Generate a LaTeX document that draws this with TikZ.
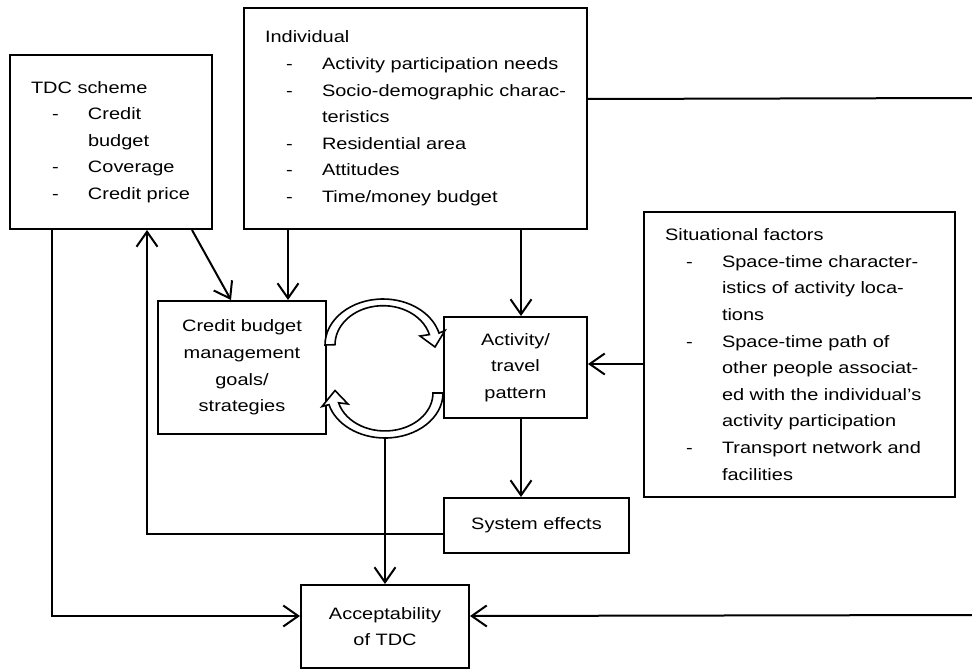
\documentclass[tikz,border=0pt]{standalone}
\usepackage{fontspec}
\setmainfont[FakeStretch=1.21]{Liberation Sans}
\usetikzlibrary{arrows.meta, positioning}
\tikzstyle{box} = [draw, rectangle, line width=2pt, inner sep=0pt, anchor=north west, font=\fontsize{16.5}{26.6}\selectfont]
\tikzstyle{listbox} = [box, align=left]
\tikzstyle{textbox} = [box, align=center]
\tikzstyle{arr} = [line width=2pt, -{Straight Barb[length=15pt,width=21pt]}]
\tikzstyle{plain} = [line width=2pt]
\tikzstyle{blockarrow} = [draw, fill=white, line width=1.6pt, line join=miter]
\newcommand{\dhead}[1]{\hspace*{21pt}#1}
\newcommand{\ditem}[1]{\hspace*{42pt}\makebox[36pt][l]{-}#1}
\newcommand{\dcont}[1]{\hspace*{78pt}#1}

\begin{document}
\begin{tikzpicture}[x=1pt, y=-1pt]
  \useasboundingbox (0,0) rectangle (972,669);

  \node[listbox, text width=202pt, minimum height=174pt] (tdc) at (9,54)
    {\dhead{TDC scheme}\\ \ditem{Credit}\\ \dcont{budget}\\ \ditem{Coverage}\\ \ditem{Credit price}};
  \node[listbox, text width=343pt, minimum height=221pt] (ind) at (243,7)
    {\dhead{Individual}\\ \ditem{Activity participation needs}\\ \ditem{Socio-demographic charac-}\\
     \dcont{teristics}\\ \ditem{Residential area}\\ \ditem{Attitudes}\\ \ditem{Time/money budget}};
  \node[listbox, text width=311pt, minimum height=285pt] (sit) at (643,211)
    {\dhead{Situational factors}\\ \ditem{Space-time character-}\\ \dcont{istics of activity loca-}\\
     \dcont{tions}\\ \ditem{Space-time path of}\\ \dcont{other people associat-}\\
     \dcont{ed with the individual's}\\ \dcont{activity participation}\\
     \ditem{Transport network and}\\ \dcont{facilities}};
  \node[textbox, text width=168pt, minimum height=133pt] (cred) at (157,300)
    {Credit budget\\management\\goals/\\strategies};
  \node[textbox, text width=143pt, minimum height=101pt] (act) at (443,316)
    {Activity/\\travel\\pattern};
  \node[textbox, text width=185pt, minimum height=55pt] (sys) at (443,497) {System effects};
  \node[textbox, text width=168pt, minimum height=83pt] (acc) at (300,584)
    {Acceptability\\of TDC};

  \draw[blockarrow] (325,345) arc[start angle=180, end angle=15, x radius=58pt, y radius=46pt]
    -- (445,330.5) -- (435,347) -- (420,336) -- (429.4,334.6)
    arc[start angle=15, end angle=180, x radius=48pt, y radius=39pt] -- cycle;
  \draw[blockarrow] (443,393) arc[start angle=0, end angle=-165, x radius=58pt, y radius=45pt]
    -- (322,406.5) -- (335,390.5) -- (348,404) -- (338.6,402.8)
    arc[start angle=-165, end angle=0, x radius=48pt, y radius=38pt] -- cycle;

  \coordinate (loopbot) at (385,438);
  \coordinate (rimtop) at (972,98);
  \coordinate (rimbot) at (972,615);

  \draw[plain] ([yshift=19.5pt]ind.east) -- (rimtop);
  \draw[arr] (rimbot) -- ([yshift=10.5pt]acc.east);
  \draw[arr] ([xshift=43pt]tdc.south west) |- ([yshift=10.5pt]acc.west);
  \draw[arr] ([yshift=-8.5pt]sys.west) -| ([xshift=138pt]tdc.south west);
  \draw[arr] ([xshift=-21pt]tdc.south east) -- ([xshift=74pt]cred.north west);
  \draw[arr] ([xshift=45pt]ind.south west) -- ([xshift=45pt]ind.south west |- cred.north);
  \draw[arr] ([xshift=5.5pt]act.north |- ind.south) -- ([xshift=5.5pt]act.north);
  \draw[arr] ([yshift=-9.5pt]sit.west) -- ([yshift=-9.5pt]sit.west -| act.east);
  \draw[arr] ([xshift=5.5pt]act.south) -- ([xshift=5.5pt]act.south |- sys.north);
  \draw[arr] (loopbot) -- (loopbot |- acc.north);
\end{tikzpicture}
\end{document}
